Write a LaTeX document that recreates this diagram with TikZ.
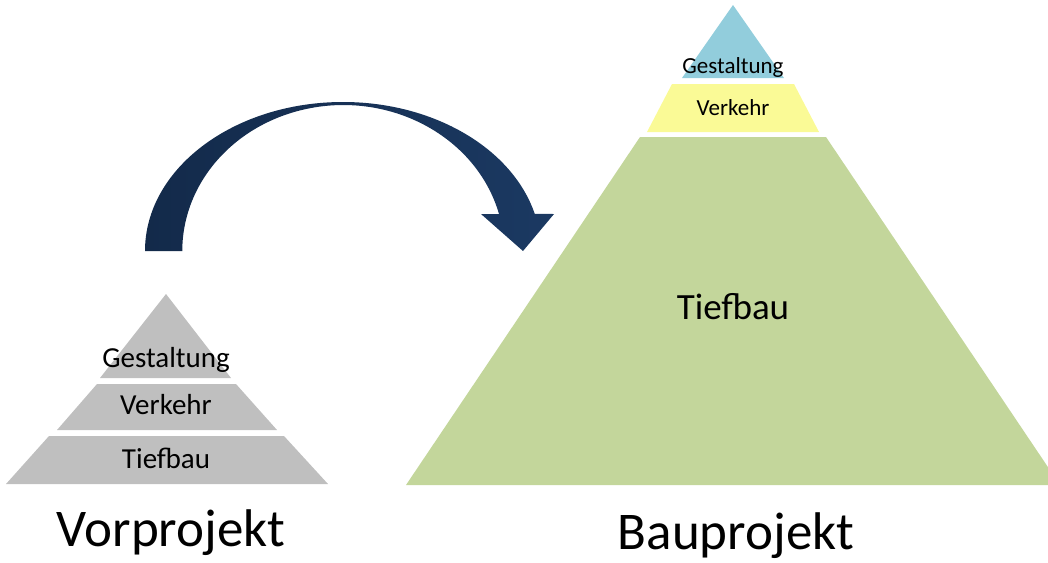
\documentclass[tikz,border=0pt]{standalone}
\usepackage{fontspec}
\setmainfont{Carlito}
\definecolor{tiergray}{HTML}{BFBFBF}
\definecolor{tierblue}{HTML}{92CDDC}
\definecolor{tieryellow}{HTML}{FAFA96}
\definecolor{tiergreen}{HTML}{C3D69B}
\definecolor{navyL}{HTML}{132A4A}
\definecolor{navyR}{HTML}{1B3962}
\begin{document}
\begin{tikzpicture}[x=1pt,y=-1pt,
  lbl/.style={anchor=base, inner sep=0pt, text=black},
  small/.style={lbl, font=\fontsize{29}{34}\selectfont},
  tiny/.style={lbl, font=\fontsize{23}{28}\selectfont},
  mid/.style={lbl, font=\fontsize{37}{44}\selectfont},
  title/.style={lbl, font=\fontsize{53}{62}\selectfont}]
\useasboundingbox (0,0) rectangle (1048,562);
\begin{scope}
\clip (0,0) rectangle (1048,562);

% Vorprojekt: grey three-tier pyramid
\fill[tiergray] (166,294) -- (231,378) -- (100,378) -- cycle;
\fill[tiergray] (97,384) -- (236,384) -- (277,430) -- (57,430) -- cycle;
\fill[tiergray] (49,436) -- (284,436) -- (328,484) -- (6,484) -- cycle;
\node[small] (vg) at (166,367) {Gestaltung};
\node[small] (vv) at (166,414) {Verkehr};
\node[small] (vt) at (166,468) {Tiefbau};
\node[title] (vp) at (171,546) {Vorprojekt};

% Bauprojekt: coloured pyramid
\fill[tierblue] (733,5) -- (784,78) -- (682,78) -- cycle;
\fill[tieryellow] (672,84) -- (794,84) -- (819,132) -- (647,132) -- cycle;
\fill[tiergreen] (640,137) -- (826,137) -- (1060,485) -- (406,485) -- cycle;
\node[tiny] (bg) at (733,73) {Gestaltung};
\node[tiny] (bv) at (733,115) {Verkehr};
\node[mid] (bt) at (733,319) {Tiefbau};
\node[title] (bp) at (736,549) {Bauprojekt};

% curved transition arrow
\shade[left color=navyL, right color=navyR]
  (145,251) arc[start angle=180, end angle=345.6, x radius=198, y radius=149]
  -- (554,214) -- (523,251) -- (481,214) -- (499,214)
  arc[start angle=345.3, end angle=180, x radius=161, y radius=146]
  -- cycle;
\end{scope}
\end{tikzpicture}
\end{document}
